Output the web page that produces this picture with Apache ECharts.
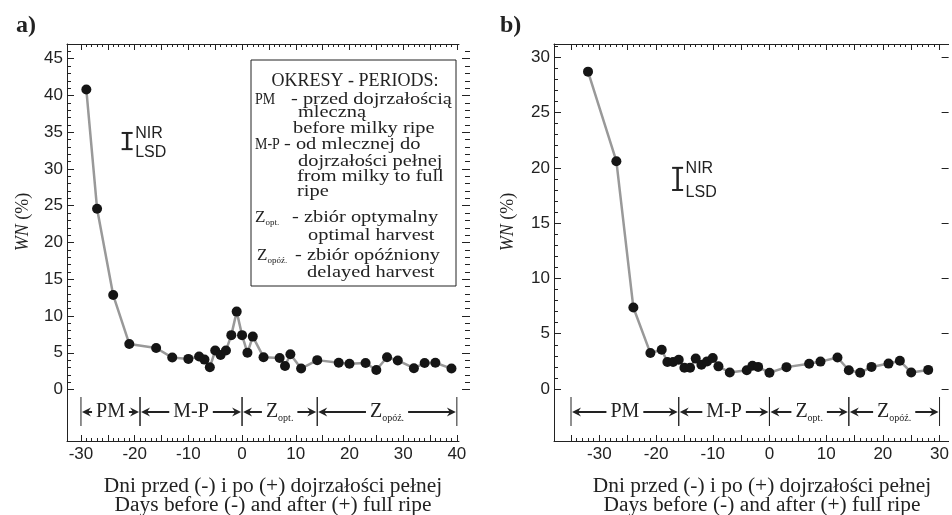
<!DOCTYPE html>
<html>
<head>
<meta charset="utf-8">
<script src="https://cdn.jsdelivr.net/npm/echarts@6/dist/echarts.min.js"></script>
<style>
  html, body { margin: 0; padding: 0; background: #fff; }
  #chart { width: 952px; height: 515px; }
</style>
</head>
<body>
<div id="chart"></div>
<script>
// panel a
var daysA = [-29, -27, -24, -21, -16, -13, -10, -8, -7, -6, -5, -4, -3, -2, -1, 0, 1, 2, 4, 7, 8, 9, 11, 14, 18, 20, 23, 25, 27, 29, 32, 34, 36, 39];
var wnA = [40.8, 24.6, 12.85, 6.2, 5.65, 4.35, 4.17, 4.5, 4.07, 3.03, 5.3, 4.7, 5.3, 7.4, 10.6, 7.4, 5.0, 7.2, 4.4, 4.3, 3.2, 4.8, 2.85, 4.0, 3.65, 3.5, 3.6, 2.65, 4.4, 3.95, 2.9, 3.6, 3.65, 2.85];
// panel b
var daysB = [-32, -27, -24, -21, -19, -18, -17, -16, -15, -14, -13, -12, -11, -10, -9, -7, -4, -3, -2, 0, 3, 7, 9, 12, 14, 16, 18, 21, 23, 25, 28];
var wnB = [28.7, 20.6, 7.37, 3.25, 3.55, 2.45, 2.45, 2.65, 1.93, 1.93, 2.75, 2.2, 2.5, 2.8, 2.05, 1.5, 1.7, 2.1, 2.0, 1.47, 1.98, 2.28, 2.48, 2.85, 1.7, 1.47, 2.0, 2.3, 2.55, 1.5, 1.73];

// LSD (NIR) bars: [day, low, high]
var lsdA = [[-21.4, 32.7, 34.9]];
var lsdB = [[-16.2, 18.0, 20.0]];

// period boundaries (days)
var periodsA = [-30, -19, 0, 14, 40];
var periodsB = [-35, -16, 0, 14, 30];
var periodNames = ['{m|PM}', '{m|M-P}', '{m|Z}{s|opt.}', '{m|Z}{s|opóź.}'];

// tick labels
var xLabelsA = [-30, -20, -10, 0, 10, 20, 30, 40];
var yLabelsA = [0, 5, 10, 15, 20, 25, 30, 35, 40, 45];
var xLabelsB = [-30, -20, -10, 0, 10, 20, 30];
var yLabelsB = [0, 5, 10, 15, 20, 25, 30];

var ink = '#222';
var sans = 'Liberation Sans';
var serif = 'Liberation Serif';

function steps(a, b, s) {
  var out = [];
  for (var v = a; v <= b + 1e-9; v += s) out.push(v);
  return out;
}

function axis(grid, pos, min, max, ticks, len, line, labels, offset) {
  return {
    type: 'value', gridIndex: grid, position: pos, min: min, max: max, offset: offset || 0,
    splitLine: { show: false },
    axisLine: { show: !!line, onZero: false, lineStyle: { color: ink, width: 1 } },
    axisTick: { show: true, inside: true, length: len, customValues: ticks, lineStyle: { color: ink, width: 1 } },
    axisLabel: labels ? {
      show: true, customValues: labels, color: ink, fontFamily: sans, fontSize: 17,
      margin: (pos === 'bottom' ? 5 : 4)
    } : { show: false }
  };
}

function pairs(bounds) {
  var out = [];
  for (var i = 0; i < bounds.length - 1; i++) out.push([bounds[i], bounds[i + 1]]);
  return out;
}

function renderPeriod(params, api) {
  var cs = params.coordSys;
  var x1 = api.coord([api.value(0), 0])[0];
  var x2 = api.coord([api.value(1), 0])[0];
  var bottom = cs.y + cs.height;
  var yTop = bottom - 44, yBot = bottom - 15, yMid = bottom - 29;
  var st = { stroke: ink, lineWidth: 1 };
  return {
    type: 'group',
    children: [
      { type: 'line', shape: { x1: x1, y1: yTop, x2: x1, y2: yBot }, style: st },
      { type: 'line', shape: { x1: x2, y1: yTop, x2: x2, y2: yBot }, style: st },
      { type: 'line', shape: { x1: x1 + 4, y1: yMid, x2: x2 - 4, y2: yMid }, style: { stroke: ink, lineWidth: 2 } },
      { type: 'polygon', shape: { points: [[x1 + 1, yMid], [x1 + 10, yMid - 4.5], [x1 + 7, yMid], [x1 + 10, yMid + 4.5]] }, style: { fill: ink } },
      { type: 'polygon', shape: { points: [[x2 - 1, yMid], [x2 - 10, yMid - 4.5], [x2 - 7, yMid], [x2 - 10, yMid + 4.5]] }, style: { fill: ink } },
      {
        type: 'text', x: (x1 + x2) / 2, y: yMid,
        style: {
          text: periodNames[params.dataIndex], align: 'center', verticalAlign: 'middle',
          backgroundColor: '#fff', padding: [0, 4], fill: ink,
          rich: {
            m: { fontSize: 20, fontFamily: serif, fill: ink, lineHeight: 22 },
            s: { fontSize: 10, fontFamily: serif, fill: ink, lineHeight: 10, verticalAlign: 'bottom' }
          }
        }
      }
    ]
  };
}

function renderLsd(params, api) {
  var top = api.coord([api.value(0), api.value(2)]);
  var bot = api.coord([api.value(0), api.value(1)]);
  var x = top[0];
  var st = { stroke: ink, lineWidth: 2 };
  var font = { fontSize: 16, fontFamily: sans, fill: ink, verticalAlign: 'middle', align: 'left' };
  return {
    type: 'group',
    children: [
      { type: 'line', shape: { x1: x, y1: top[1], x2: x, y2: bot[1] }, style: { stroke: ink, lineWidth: 2.5 } },
      { type: 'line', shape: { x1: x - 5.5, y1: top[1], x2: x + 5.5, y2: top[1] }, style: st },
      { type: 'line', shape: { x1: x - 5.5, y1: bot[1], x2: x + 5.5, y2: bot[1] }, style: st },
      { type: 'text', x: x + 8, y: top[1] + 1, style: Object.assign({ text: 'NIR' }, font) },
      { type: 'text', x: x + 8, y: bot[1] + 3, style: Object.assign({ text: 'LSD' }, font) }
    ]
  };
}

// text element; sx stretches the glyphs horizontally like the original figure
function txt(x, y, s, size, sx, styleExtra, elExtra) {
  var el = {
    type: 'text', x: x, y: y, scaleX: sx || 1,
    style: Object.assign({
      text: s, fill: ink, fontFamily: serif, fontSize: size,
      align: 'left', verticalAlign: 'middle',
      rich: {
        m: { fontSize: 17, fontFamily: serif, fill: ink, lineHeight: 18 },
        s: { fontSize: 9, fontFamily: serif, fill: ink, lineHeight: 8, verticalAlign: 'bottom' },
        i: { fontSize: size, fontFamily: serif, fill: ink, fontStyle: 'italic' }
      }
    }, styleExtra || {})
  };
  return Object.assign(el, elExtra || {});
}

var chart = echarts.init(document.getElementById('chart'));

var xMinA = -32.6, xMaxA = 40.4, yMinA = -7, yMaxA = 47;
var xMinB = -38, xMaxB = 31.6, yMinB = -4.7, yMaxB = 31.2;
var body = 17, stretch = 1.2, caps = 0.82;

var option = {
  animation: false,
  backgroundColor: '#fff',
  grid: [
    { left: 67, top: 44, width: 392, height: 397 },
    { left: 554, top: 44, width: 398, height: 397 }
  ],
  xAxis: [
    axis(0, 'bottom', xMinA, xMaxA, steps(-30, 40, 5), 6, true, xLabelsA),
    axis(0, 'bottom', xMinA, xMaxA, steps(-30, 40, 1), 3, false),
    axis(0, 'top', xMinA, xMaxA, steps(-30, 40, 5), 6, true),
    axis(0, 'top', xMinA, xMaxA, steps(-30, 40, 1), 3, false),
    axis(1, 'bottom', xMinB, xMaxB, steps(-35, 30, 5), 6, true, xLabelsB),
    axis(1, 'bottom', xMinB, xMaxB, steps(-35, 30, 1), 3, false),
    axis(1, 'top', xMinB, xMaxB, steps(-35, 30, 5), 6, true),
    axis(1, 'top', xMinB, xMaxB, steps(-35, 30, 1), 3, false)
  ],
  yAxis: [
    axis(0, 'left', yMinA, yMaxA, steps(0, 45, 5), 7, true, yLabelsA),
    axis(0, 'left', yMinA, yMaxA, steps(0, 46, 1), 4, false),
    axis(0, 'right', yMinA, yMaxA, steps(0, 45, 5), 8, false, null, 11),
    axis(0, 'right', yMinA, yMaxA, steps(0, 46, 1), 5, false, null, 11),
    axis(1, 'left', yMinB, yMaxB, steps(0, 30, 5), 7, true, yLabelsB),
    axis(1, 'left', yMinB, yMaxB, steps(0, 31, 1), 4, false),
    axis(1, 'right', yMinB, yMaxB, steps(0, 30, 5), 7, false)
  ],
  series: [
    {
      type: 'line', xAxisIndex: 0, yAxisIndex: 0,
      data: daysA.map(function (d, i) { return [d, wnA[i]]; }),
      symbol: 'circle', symbolSize: 10,
      lineStyle: { color: '#999', width: 2.5 },
      itemStyle: { color: '#151515' }, z: 3
    },
    {
      type: 'line', xAxisIndex: 4, yAxisIndex: 4,
      data: daysB.map(function (d, i) { return [d, wnB[i]]; }),
      symbol: 'circle', symbolSize: 10,
      lineStyle: { color: '#999', width: 2.5 },
      itemStyle: { color: '#151515' }, z: 3
    },
    { type: 'custom', xAxisIndex: 0, yAxisIndex: 0, data: pairs(periodsA), encode: { x: [0, 1] }, renderItem: renderPeriod, silent: true, clip: false },
    { type: 'custom', xAxisIndex: 4, yAxisIndex: 4, data: pairs(periodsB), encode: { x: [0, 1] }, renderItem: renderPeriod, silent: true, clip: false },
    { type: 'custom', xAxisIndex: 0, yAxisIndex: 0, data: lsdA, encode: { x: 0, y: [1, 2] }, renderItem: renderLsd, silent: true, clip: false },
    { type: 'custom', xAxisIndex: 4, yAxisIndex: 4, data: lsdB, encode: { x: 0, y: [1, 2] }, renderItem: renderLsd, silent: true, clip: false }
  ],
  graphic: [
    txt(16, 26, 'a)', 24, 1, { fontWeight: 'bold' }),
    txt(500, 26, 'b)', 24, 1, { fontWeight: 'bold' }),
    txt(23, 222, '{i|WN} (%)', 18, 1, { align: 'center' }, { rotation: Math.PI / 2 }),
    txt(508, 222, '{i|WN} (%)', 18, 1, { align: 'center' }, { rotation: Math.PI / 2 }),
    txt(273, 487, 'Dni przed (-) i po (+) dojrzałości pełnej', 20, 1.07, { align: 'center' }),
    txt(273, 506, 'Days before (-) and after (+) full ripe', 20, 1.07, { align: 'center' }),
    txt(762, 487, 'Dni przed (-) i po (+) dojrzałości pełnej', 20, 1.07, { align: 'center' }),
    txt(762, 506, 'Days before (-) and after (+) full ripe', 20, 1.07, { align: 'center' }),
    { type: 'rect', shape: { x: 251, y: 60, width: 205, height: 226 }, style: { fill: '#fff', stroke: ink, lineWidth: 1 } },
    txt(355, 81, 'OKRESY - PERIODS:', 18, 1, { align: 'center' }),
    txt(255, 100, 'PM', 17, caps),
    txt(291, 100, '- przed dojrzałością', body, stretch),
    txt(298, 113, 'mleczną', body, stretch),
    txt(293, 129, 'before milky ripe', body, stretch),
    txt(255, 145, 'M-P', 17, caps),
    txt(284, 145, '- od mlecznej do', body, stretch),
    txt(298, 162, 'dojrzałości pełnej', body, stretch),
    txt(297, 177, 'from milky to full', body, stretch),
    txt(297, 192, 'ripe', body, stretch),
    txt(255, 218, '{m|Z}{s|opt.}', 17),
    txt(292, 218, '- zbiór optymalny', body, stretch),
    txt(308, 236, 'optimal harvest', body, stretch),
    txt(257, 256, '{m|Z}{s|opóź.}', 17),
    txt(295, 256, '- zbiór opóźniony', body, stretch),
    txt(307, 273, 'delayed harvest', body, stretch)
  ]
};

chart.setOption(option);
</script>
</body>
</html>
